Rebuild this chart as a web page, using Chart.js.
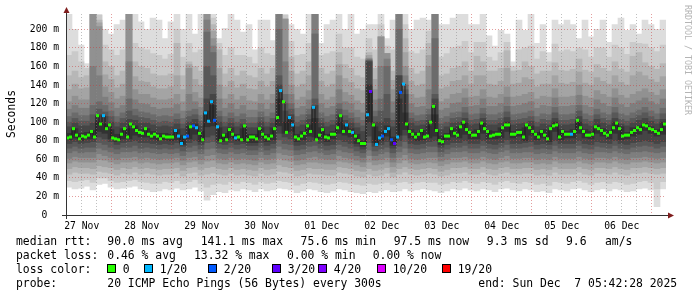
<!DOCTYPE html>
<html>
<head>
<meta charset="utf-8">
<title>SmokePing latency</title>
<script src="https://cdn.jsdelivr.net/npm/chart.js@4.4.1/dist/chart.umd.min.js"></script>
<style>
  html, body { margin: 0; padding: 0; background: #fff; }
  #wrap { width: 697px; height: 297px; }
  canvas { display: block; }
</style>
</head>
<body>
<div id="wrap"><canvas id="chart" width="697" height="297"></canvas></div>
<script>
/* ============================================================
   Latency graph: 10 days, 20 pings every 300s
   ============================================================ */

const spanHours = 240;          // 27 Nov 05:42 -> 07 Dec 05:42
const sampleHours = 1.2;        // one median sample per 72 min
const smokeHours = 2.4;         // one smoke column per 2.4 h
const firstGridHour = 17.53 / 60; // 06:00 on 27 Nov

const dayLabels = ['27 Nov', '28 Nov', '29 Nov', '30 Nov', '01 Dec',
                   '02 Dec', '03 Dec', '04 Dec', '05 Dec', '06 Dec'];

// median rtt (ms), 200 samples
const medianRtt = [
  83,84,93,86,82,85,84,86,90,84,107,98,107,93,97,83,82,81,87,93,
  84,98,95,91,89,88,93,87,85,87,85,82,85,84,84,84,91,85,77,84,
  85,95,96,94,88,81,110,101,122,102,95,80,86,81,92,87,83,84,81,96,
  81,84,84,82,93,87,84,82,85,93,105,134,122,89,105,97,84,82,85,88,
  96,90,116,81,86,92,84,83,87,87,94,107,90,97,90,89,85,80,77,77,
  108,133,97,76,83,85,90,93,81,77,84,132,141,98,90,87,84,87,91,84,
  85,100,117,91,80,79,85,85,93,88,86,95,100,92,89,86,86,90,99,93,
  90,85,86,87,87,94,97,97,87,87,89,89,84,97,94,90,87,84,90,86,
  82,93,96,97,84,90,87,87,87,90,102,94,90,86,86,87,95,93,91,88,
  86,89,94,99,93,85,86,86,89,91,94,92,97,96,93,92,90,88,92,98
];

// lost pings out of 20, per median sample
const medianLoss = [
  0,0,0,0,0,0,0,0,0,0,0,0,1,0,0,0,0,0,0,0,
  0,0,0,0,0,0,0,0,0,0,0,0,0,0,0,0,1,1,1,1,
  2,0,2,1,0,0,1,1,1,2,1,0,0,0,0,0,1,0,0,0,
  0,0,0,0,0,0,0,0,0,0,0,1,0,0,1,1,0,0,0,0,
  0,0,1,0,0,0,0,0,0,0,0,0,0,1,0,1,0,0,0,0,
  1,3,0,1,1,2,1,1,2,3,1,2,1,0,0,0,0,0,0,0,
  0,0,0,0,0,0,0,0,0,0,0,0,0,0,0,0,0,0,0,0,
  0,0,0,0,0,0,0,0,0,0,0,0,0,0,0,0,0,0,0,0,
  0,0,0,0,0,0,0,0,1,0,0,0,0,0,0,0,0,0,0,0,
  0,0,0,0,0,0,0,0,0,0,0,0,0,0,0,0,0,0,0,0
];

// smoke: sorted ping rtt (ms) per column, 100 columns, ping1 = fastest
const ping20 = [
  217,200,183,163,217,217,200,195,205,210, 217,217,208,200,212,210,190,208,217,200,
  217,195,217,217,217,190,201,217,210,197, 205,178,210,210,188,217,217,205,200,195,
  217,217,185,205,210,217,200,217,195,200, 205,205,217,190,210,217,217,200,210,212,
  210,217,205,205,212,217,217,205,205,217, 193,182,199,195,165,210,199,217,185,205,
  175,210,205,210,205,190,210,192,200,210, 186,205,212,199,205,195,210,205,200,210
];
const ping19 = [
  172,176,165,158,217,215,183,178,172,178, 217,185,180,178,174,172,168,173,200,170,
  185,175,178,217,212,185,172,180,172,172, 170,163,180,174,172,217,215,187,172,173,
  185,217,172,174,176,195,180,180,170,168, 190,178,205,182,178,217,205,176,174,178,
  198,217,170,174,180,182,187,175,186,186, 170,166,175,186,160,178,180,182,168,176,
  165,184,176,178,176,180,178,170,180,180, 170,183,180,173,186,185,184,180,176,183
];
const ping18 = [
  150,155,148,150,217,210,165,160,150,155, 217,165,160,158,152,150,150,152,185,150,
  165,160,155,217,205,178,152,158,150,155, 150,148,158,152,158,217,211,170,152,155,
  165,217,158,152,155,175,162,158,150,148, 175,158,192,174,155,217,190,158,152,155,
  185,217,150,152,158,160,165,155,171,165, 155,155,158,177,155,156,165,160,152,155,
  155,164,156,155,157,168,156,154,162,158, 155,165,157,154,171,175,164,160,157,163
];
const ping17 = [
  135,141,136,137,217,207,151,146,137,141, 217,149,144,143,138,136,136,138,150,135,
  162,146,140,217,198,158,138,144,137,141, 136,135,144,138,144,217,211,155,138,141,
  150,217,144,138,141,162,147,143,136,134, 172,146,192,174,145,217,175,144,139,141,
  172,217,136,138,144,145,150,141,150,150, 141,140,144,158,141,142,148,146,138,141,
  141,150,142,141,143,154,142,140,148,144, 141,150,143,140,150,154,150,146,143,149
];
const ping16 = [
  122,128,124,124,217,203,138,132,125,128, 217,135,130,130,126,124,124,125,130,122,
  158,132,126,217,190,140,125,130,124,128, 123,122,130,124,130,217,211,140,124,127,
  134,217,130,124,127,150,132,129,123,120, 169,135,192,174,135,217,160,130,126,127,
  160,217,122,125,130,131,136,127,128,135, 127,126,130,138,127,128,130,132,125,128,
  127,136,127,127,128,140,128,126,134,130, 127,136,129,126,130,133,136,132,129,135
];
const ping15 = [
  114,118,115,115,160,150,127,121,115,118, 165,124,120,119,116,114,115,115,119,112,
  130,122,116,210,182,125,115,120,114,118, 113,113,120,114,120,217,165,130,115,117,
  124,217,120,115,117,135,122,120,113,110, 168,124,160,168,122,217,150,120,116,117,
  135,217,113,115,120,121,126,117,118,125, 117,117,120,127,117,118,120,122,115,118,
  117,126,117,117,118,129,118,116,124,120, 117,126,119,116,120,123,126,122,119,125
];
const ping14 = [
  106,110,107,107,118,122,118,112,106,110, 125,114,111,110,108,106,107,106,109,104,
  112,114,107,197,175,112,106,110,106,109, 105,105,111,106,110,200,130,120,106,108,
  114,195,110,106,108,120,113,110,105,102, 167,112,125,160,110,200,140,110,107,108,
  114,190,104,106,110,111,116,108,109,115, 108,108,110,117,108,109,110,112,106,109,
  108,116,108,108,109,118,109,107,114,110, 108,116,109,107,110,113,116,112,109,115
];
const ping13 = [
  100,104,101,101,108,114,111,106,100,104, 112,107,105,104,102,100,101,100,103,98,
  106,108,101,160,150,106,100,104,100,103, 99,99,105,100,104,150,120,114,100,102,
  108,125,104,100,102,114,107,104,99,96, 166,106,112,130,102,150,135,104,101,102,
  108,130,98,100,104,105,110,102,103,109, 102,102,104,111,102,103,104,106,100,103,
  102,110,102,102,103,112,103,101,108,104, 102,110,103,101,104,107,110,106,103,109
];
const ping12 = [
  95,99,96,96,99,108,106,100,95,99, 103,102,99,99,97,95,96,95,98,93,
  100,103,96,125,130,100,95,99,95,98, 94,94,100,95,99,140,112,108,95,97,
  103,118,99,95,97,108,102,99,94,90, 165,100,100,104,95,150,130,99,96,97,
  102,125,92,95,99,100,104,97,98,104, 97,97,99,105,97,98,99,101,95,98,
  97,104,97,97,98,106,98,96,103,99, 97,104,98,96,99,102,104,101,98,103
];
const ping11 = [
  88,93,88,89,91,100,98,92,87,93, 93,96,92,93,90,88,88,87,92,86,
  96,98,90,112,118,94,88,94,87,93, 87,87,94,87,94,125,100,102,87,90,
  97,104,94,87,90,100,97,93,87,80, 140,95,90,96,84,125,110,92,89,91,
  96,108,85,88,93,95,99,90,92,99, 91,90,94,100,90,92,94,96,89,92,
  91,100,92,90,92,100,92,90,97,93, 91,100,95,89,94,96,99,95,92,100
];
const ping10 = [
  81,83,80,82,82,90,88,82,79,82, 82,86,84,84,82,80,81,80,81,76,
  82,87,79,95,96,80,79,83,80,79, 78,78,83,79,81,96,88,90,79,81,
  85,84,82,79,82,88,86,84,77,74, 100,78,80,85,75,86,92,83,80,81,
  83,85,76,81,84,83,87,82,82,88, 82,82,83,90,83,85,80,86,81,83,
  79,90,81,83,83,88,83,82,88,85, 82,88,81,82,85,87,91,88,85,87
];
const ping9 = [
  77,79,77,78,79,84,82,79,76,78, 79,80,78,78,77,76,77,76,78,74,
  78,80,76,84,86,77,76,78,76,77, 75,75,78,75,77,88,84,82,75,76,
  79,80,77,75,76,81,79,77,74,71, 85,74,76,79,72,80,86,77,76,77,
  79,80,73,76,78,78,80,77,77,80, 77,76,78,81,77,77,78,79,76,77,
  76,80,77,77,77,80,77,76,79,78, 77,80,77,76,78,79,80,79,77,79
];
const ping8 = [
  72,74,72,73,73,78,76,73,71,73, 73,75,72,73,72,71,72,71,72,69,
  73,75,71,78,79,72,71,73,71,72, 70,70,73,70,72,81,77,76,70,71,
  74,75,72,70,71,76,74,72,69,67, 78,69,71,73,67,74,79,72,71,72,
  74,74,68,71,73,73,75,72,72,75, 72,71,73,76,72,72,73,74,71,72,
  71,75,72,72,72,75,72,71,74,73, 72,75,72,71,73,74,75,74,72,74
];
const ping7 = [
  67,69,67,68,68,72,70,68,66,68, 68,69,67,68,67,66,67,66,67,64,
  68,69,66,71,72,67,66,68,66,67, 65,65,68,65,67,74,71,70,65,66,
  68,69,67,65,66,70,68,67,64,62, 70,64,66,68,62,68,72,67,66,67,
  68,68,63,66,68,68,69,67,67,69, 67,66,68,70,67,67,68,68,66,67,
  66,69,67,67,67,69,67,66,68,68, 67,69,67,66,68,68,69,68,67,68
];
const ping6 = [
  61,63,62,62,62,66,64,62,60,62, 62,63,61,62,61,60,61,61,62,59,
  62,63,60,64,65,61,60,62,60,61, 60,59,62,60,61,67,65,64,59,60,
  62,63,61,60,60,64,62,61,59,57, 64,59,60,62,57,62,65,61,60,61,
  62,62,58,60,62,62,63,61,61,63, 61,60,62,64,61,61,62,62,60,61,
  60,63,61,61,61,63,61,60,62,62, 61,63,61,60,62,62,63,62,61,62
];
const ping5 = [
  56,58,57,57,57,60,59,57,55,57, 57,58,56,57,56,55,56,56,57,54,
  57,58,55,58,59,56,55,57,55,56, 55,54,57,55,56,61,59,58,54,55,
  57,57,56,55,55,58,57,56,54,52, 57,54,55,57,52,56,59,56,55,56,
  57,56,53,55,57,57,58,56,56,58, 56,55,57,58,56,56,57,57,55,56,
  55,58,56,56,56,58,56,55,57,57, 56,58,56,55,57,57,58,57,56,57
];
const ping4 = [
  50,52,51,51,50,53,52,51,49,51, 50,52,50,51,50,49,50,50,51,48,
  51,52,49,51,52,50,49,51,49,50, 49,48,51,49,50,54,52,51,48,49,
  51,50,50,49,49,52,51,50,48,47, 50,48,49,51,46,50,52,50,49,50,
  51,50,47,49,51,51,52,50,50,52, 50,49,51,52,50,50,51,51,49,50,
  49,52,50,50,50,52,50,49,51,51, 50,52,50,49,51,51,52,51,50,51
];
const ping3 = [
  44,46,45,45,44,47,46,45,43,45, 44,46,44,45,44,43,44,44,45,42,
  45,46,43,44,45,44,43,45,43,44, 43,42,45,43,44,47,46,45,42,43,
  45,44,44,43,43,46,45,44,42,41, 44,42,43,45,41,44,46,44,43,44,
  45,44,42,43,45,45,46,44,44,46, 44,43,45,46,44,44,45,45,43,44,
  43,46,44,44,44,46,44,43,45,45, 44,46,44,43,45,45,46,45,44,45
];
const ping2 = [
  37,36,37,38,35,40,40,37,35,36, 37,38,36,35,34,34,36,35,37,34,
  36,38,34,30,33,34,33,36,34,36, 35,33,36,34,35,37,36,35,32,34,
  36,35,34,33,34,36,35,34,33,32, 34,33,34,35,33,35,36,34,35,36,
  35,35,33,34,36,35,37,35,34,36, 35,33,36,37,35,34,36,35,33,34,
  32,36,35,34,36,37,35,33,35,36, 34,36,35,33,34,36,37,35,28,36
];
const ping1 = [
  30,28,29,31,27,33,34,30,28,29, 30,31,28,27,25,26,28,27,29,27,
  28,30,26,16,22,25,24,27,26,28, 27,25,28,26,27,29,28,27,24,26,
  28,27,25,24,26,28,27,25,24,23, 25,24,26,27,25,26,28,26,27,28,
  27,26,24,26,28,27,29,27,26,28, 27,25,28,29,27,26,28,27,25,26,
  24,28,27,26,28,29,27,25,27,28, 26,28,27,25,26,28,29,27,9,28
];

// loss colour legend
const lossLevels = [0, 1, 2, 3, 4, 10, 19];
const lossLabels = ['0', '1/20', '2/20', '3/20', '4/20', '10/20', '19/20'];
const lossColors = ['#26ff00', '#00b8ff', '#0059ff', '#5e00ff', '#7e00ff', '#dd00ff', '#ff0000'];

// statistics text
const rttStats = ['90.0 ms avg', '141.1 ms max', '75.6 ms min', '97.5 ms now', '9.3 ms sd', '9.6', 'am/s'];
const lossStats = ['0.46 % avg', '13.32 % max', '0.00 % min', '0.00 % now'];
const probeText = '20 ICMP Echo Pings (56 Bytes) every 300s';
const endText = 'end: Sun Dec  7 05:42:28 2025';
const watermark = 'RRDTOOL / TOBI OETIKER';

function lossColor(n) {
  let col = lossColors[0];
  lossLevels.forEach((lv, i) => { if (n >= lv) col = lossColors[i]; });
  return col;
}

// nested smoke bands, outermost first (ping i .. ping 21-i)
const bands = [
  { lo: ping1,  hi: ping20, color: '#dddddd' },
  { lo: ping2,  hi: ping19, color: '#cacaca' },
  { lo: ping3,  hi: ping18, color: '#b7b7b7' },
  { lo: ping4,  hi: ping17, color: '#a4a4a4' },
  { lo: ping5,  hi: ping16, color: '#919191' },
  { lo: ping6,  hi: ping15, color: '#7e7e7e' },
  { lo: ping7,  hi: ping14, color: '#6b6b6b' },
  { lo: ping8,  hi: ping13, color: '#585858' },
  { lo: ping9,  hi: ping12, color: '#454545' },
  { lo: ping10, hi: ping11, color: '#323232' }
];

const mono = '"DejaVu Sans Mono", monospace';
const gridGrey = 'rgba(140, 140, 140, 0.55)';
const gridRed = 'rgba(200, 60, 60, 0.5)';

// Axes, arrows, labels and legend block
const framePlugin = {
  id: 'frame',
  afterDraw(chart) {
    const ctx = chart.ctx;
    const area = chart.chartArea;
    const xs = chart.scales.x;
    ctx.save();

    ctx.strokeStyle = '#333';
    ctx.lineWidth = 1;
    ctx.beginPath();
    ctx.moveTo(area.left - 4, area.bottom + 0.5);
    ctx.lineTo(area.right + 3, area.bottom + 0.5);
    ctx.moveTo(area.left + 0.5, area.bottom + 4);
    ctx.lineTo(area.left + 0.5, area.top - 2);
    ctx.stroke();

    ctx.fillStyle = '#7f1d1d';
    ctx.beginPath();
    ctx.moveTo(area.right + 8, area.bottom + 0.5);
    ctx.lineTo(area.right + 2, area.bottom - 2.5);
    ctx.lineTo(area.right + 2, area.bottom + 3.5);
    ctx.closePath();
    ctx.fill();
    ctx.beginPath();
    ctx.moveTo(area.left + 0.5, area.top - 7);
    ctx.lineTo(area.left - 2.5, area.top - 1);
    ctx.lineTo(area.left + 3.5, area.top - 1);
    ctx.closePath();
    ctx.fill();

    // day labels at noon
    ctx.fillStyle = '#000';
    ctx.font = '9.7px ' + mono;
    ctx.textAlign = 'center';
    ctx.textBaseline = 'alphabetic';
    dayLabels.forEach((label, d) => {
      const px = xs.getPixelForValue(firstGridHour + 6 + 24 * d);
      ctx.fillText(label, px, 228.5);
    });

    // unit label
    ctx.font = '11.4px ' + mono;
    ctx.save();
    ctx.translate(15, 114);
    ctx.rotate(-Math.PI / 2);
    ctx.fillText('Seconds', 0, 0);
    ctx.restore();

    // watermark
    ctx.save();
    ctx.fillStyle = '#b4b4b4';
    ctx.font = '8.3px ' + mono;
    ctx.textAlign = 'left';
    ctx.translate(684.5, 5);
    ctx.rotate(Math.PI / 2);
    ctx.fillText(watermark, 0, 0);
    ctx.restore();

    // legend
    ctx.textAlign = 'left';
    ctx.font = '11.4px ' + mono;
    const rttX = [107.3, 200.7, 300.6, 393.7, 486.8, 566, 605];
    const lossX = [107.3, 194, 287, 372.7];
    const boxX = [107, 144, 208, 272, 318, 377, 442];

    ctx.fillText('median rtt:', 16, 245);
    rttStats.forEach((t, i) => ctx.fillText(t, rttX[i], 245));

    ctx.fillText('packet loss:', 16, 259);
    lossStats.forEach((t, i) => ctx.fillText(t, lossX[i], 259));

    ctx.fillText('loss color:', 16, 273);
    lossLabels.forEach((t, i) => {
      ctx.fillStyle = lossColors[i];
      ctx.fillRect(boxX[i], 264, 9, 9);
      ctx.strokeStyle = '#000';
      ctx.strokeRect(boxX[i] + 0.5, 264.5, 8, 8);
      ctx.fillStyle = '#000';
      ctx.fillText(t, boxX[i] + 15.7, 273);
    });

    ctx.fillText('probe:', 16, 287);
    ctx.fillText(probeText, 107.3, 287);
    ctx.fillText(endText, 478.3, 287);

    ctx.restore();
  }
};

const smokeSets = bands.map((b, i) => ({
  type: 'bar',
  data: b.lo.map((lo, k) => ({ x: (k + 0.5) * smokeHours, y: [lo, b.hi[k]] })),
  backgroundColor: b.color,
  borderWidth: 0,
  grouped: false,
  barPercentage: 1,
  categoryPercentage: 1,
  order: 20 - i
}));

const medianPoints = medianRtt.map((v, c) => ({ x: (c + 0.5) * sampleHours, y: v }));

new Chart(document.getElementById('chart'), {
  type: 'line',
  data: {
    datasets: [
      ...smokeSets,
      {
        type: 'line',
        data: medianPoints,
        stepped: 'middle',
        borderColor: '#1a1a1a',
        borderWidth: 1,
        pointRadius: 0,
        order: 2
      },
      {
        type: 'line',
        data: medianPoints,
        showLine: false,
        pointStyle: 'rect',
        pointRadius: 2.13,
        pointBorderWidth: 0,
        pointBackgroundColor: medianLoss.map(lossColor),
        order: 1
      }
    ]
  },
  options: {
    responsive: false,
    animation: false,
    devicePixelRatio: 1,
    layout: { padding: { left: 0, right: 31, top: 14, bottom: 0 } },
    plugins: { legend: { display: false }, tooltip: { enabled: false } },
    scales: {
      x: {
        type: 'linear',
        min: 0,
        max: spanHours,
        offset: false,
        afterBuildTicks: s => {
          const ticks = [];
          for (let h = firstGridHour; h < spanHours; h += 6) ticks.push({ value: h });
          s.ticks = ticks;
        },
        afterFit: s => { s.height = 82; },
        ticks: { display: false, autoSkip: false, maxRotation: 0 },
        grid: {
          z: 1,
          offset: false,
          drawTicks: false,
          color: c => (c.index % 4 === 3 ? gridRed : gridGrey)
        },
        border: { display: false, dash: [1, 2] }
      },
      y: {
        type: 'linear',
        min: 0,
        max: 216.5,
        afterBuildTicks: s => {
          const ticks = [];
          for (let v = 0; v <= 210; v += 10) ticks.push({ value: v });
          s.ticks = ticks;
        },
        afterFit: s => { s.width = 66; },
        ticks: {
          padding: 7,
          color: '#000',
          font: { family: 'DejaVu Sans Mono', size: 9.7 },
          callback: v => (v === 0 ? '0  ' : (v % 20 === 0 ? v + ' m' : ''))
        },
        grid: {
          z: 1,
          drawTicks: false,
          color: c => (c.tick.value === 0 ? 'rgba(0,0,0,0)' : (c.tick.value % 20 === 0 ? gridRed : gridGrey))
        },
        border: { display: false, dash: [1, 2] }
      }
    }
  },
  plugins: [framePlugin]
});
</script>
</body>
</html>
